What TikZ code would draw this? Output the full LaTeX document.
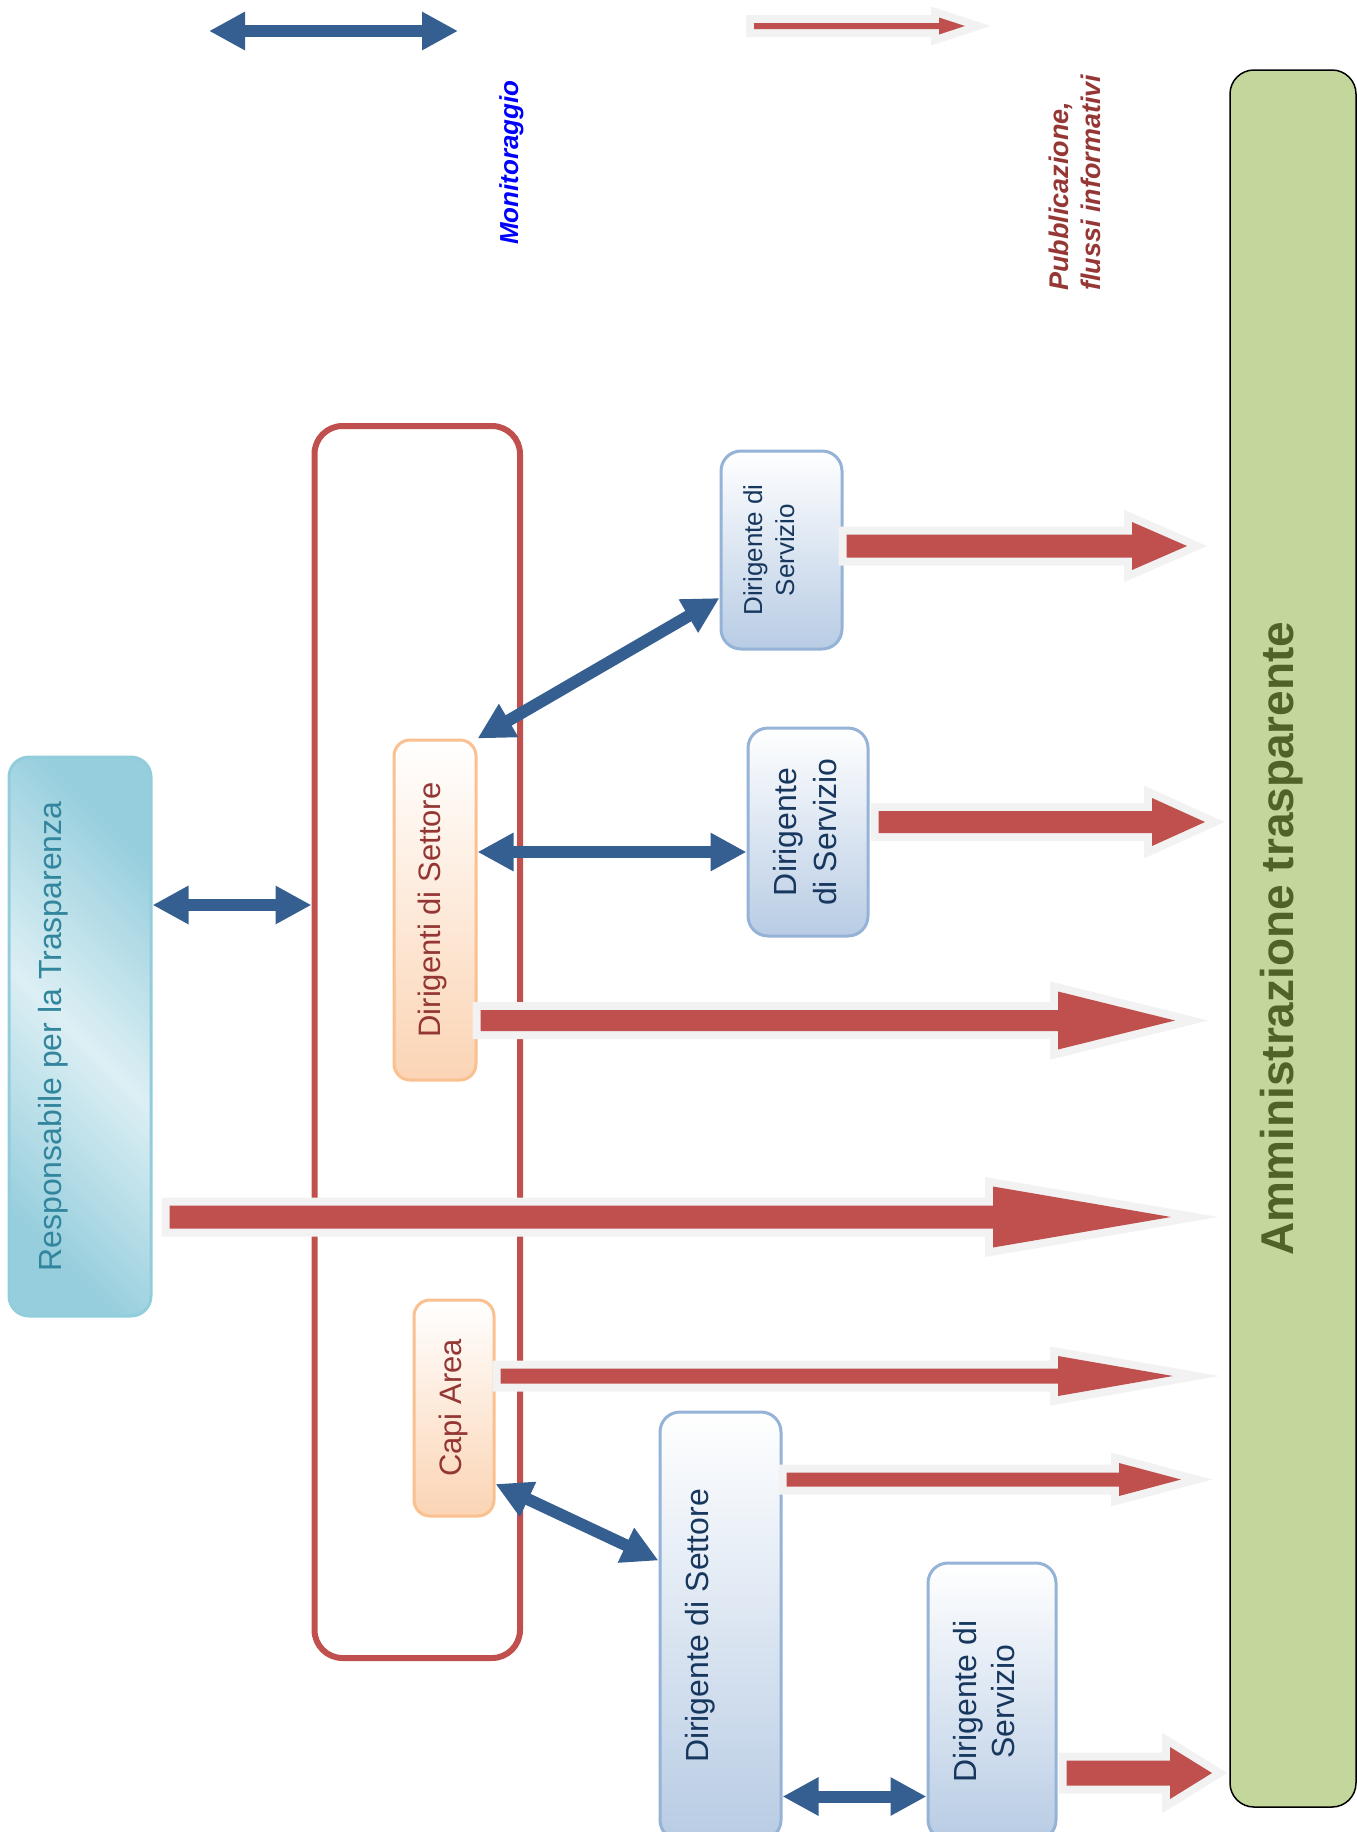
\documentclass[tikz,border=0pt]{standalone}
\usepackage{fontspec}
\setmainfont{Liberation Sans}
\usetikzlibrary{arrows.meta}
\usetikzlibrary{calc}

\definecolor{monblue}{HTML}{365F91}
\definecolor{pubred}{HTML}{C0504D}
\definecolor{halo}{HTML}{F2F2F2}
\definecolor{resline}{HTML}{92CDDC}
\definecolor{resdark}{HTML}{96CEDD}
\definecolor{reslight}{HTML}{DCEFF4}
\definecolor{restext}{HTML}{31859C}
\definecolor{setline}{HTML}{FAC090}
\definecolor{setfill}{HTML}{FBD4B4}
\definecolor{settext}{HTML}{943634}
\definecolor{srvline}{HTML}{95B3D7}
\definecolor{srvfill}{HTML}{B8CCE4}
\definecolor{srvtext}{HTML}{17375E}
\definecolor{ammfill}{HTML}{C3D69B}
\definecolor{ammtext}{HTML}{4F6228}
\definecolor{pubtext}{HTML}{953735}

% rotated label, #1 moves the baseline to the left
\newcommand{\vtext}[2]{\rotatebox{90}{\raisebox{#1}[0pt][0pt]{#2}}}
% start, tip, half shaft, half head, head length
\newcommand{\pubarrow}[5]{%
  \fill[pubfill] ($(#1)+(0,#3)$) -- ($(#2)+(-#5,#3)$) -- ($(#2)+(-#5,#4)$) -- (#2)
    -- ($(#2)+(-#5,-#4)$) -- ($(#2)+(-#5,-#3)$) -- ($(#1)+(0,-#3)$) -- cycle;}

\tikzset{
  resbox/.style={draw=resline, line width=3pt, rounded corners=20pt, left color=resdark,
    right color=resdark, middle color=reslight, shading angle=135, text=restext,
    inner sep=0pt, font=\fontsize{32}{38}\selectfont},
  setbox/.style={draw=setline, line width=3pt, rounded corners=16pt, top color=white,
    bottom color=setfill, text=settext, inner sep=0pt, font=\fontsize{31}{37}\selectfont},
  srvbox/.style={draw=srvline, line width=3pt, rounded corners=20pt, top color=white,
    bottom color=srvfill, text=srvtext, inner sep=0pt, font=\fontsize{32}{38}\selectfont},
  ammbox/.style={draw=black, line width=1.5pt, rounded corners=24pt, fill=ammfill,
    text=ammtext, inner sep=0pt, font=\bfseries\fontsize{46}{55}\selectfont},
  grpframe/.style={draw=pubred, line width=6pt, rounded corners=28pt, inner sep=0pt},
  monarrow/.style={draw=monblue, line width=12pt, >={Triangle[length=36pt,width=36pt]}, <->},
  pubfill/.style={fill=pubred, preaction={draw=halo, line width=16pt, line join=miter}},
}

\begin{document}
\begin{tikzpicture}[x=1pt,y=-1pt,
    legtext/.style={rotate=90, anchor=base west, inner sep=0pt}]
\useasboundingbox (0,0) rectangle (1357,1832);

% legend
\coordinate (legmonA) at (209,31);
\coordinate (legmonB) at (458,31);
\coordinate (legpubA) at (754,26);
\coordinate (legpubB) at (965,26);
\node[legtext, text=blue, font=\bfseries\itshape\fontsize{26}{31}\selectfont] (mon) at (518,245) {Monitoraggio};
\node[legtext, text=pubtext, font=\bfseries\itshape\fontsize{27}{32}\selectfont] (pub) at (1100,291)
  {\begin{tabular}[b]{@{}l@{}}Pubblicazione,\\flussi informativi\end{tabular}};

% boxes
\node[grpframe, minimum width=205.5, minimum height=1232] (grp) at (417.25,1042) {};
\node[resbox, minimum width=142, minimum height=559] (resp) at (80,1036.5)
  {\vtext{19pt}{Responsabile per la Trasparenza}};
\node[setbox, minimum width=82, minimum height=340] (dds) at (435,910)
  {\vtext{-5pt}{Dirigenti di Settore}};
\node[setbox, minimum width=80, minimum height=216] (capi) at (454,1408)
  {\vtext{-7pt}{Capi Area}};
\node[srvbox, minimum width=121, minimum height=198, font=\fontsize{26}{32}\selectfont] (dsv1) at (781.5,550)
  {\vtext{-12.5pt}{\begin{tabular}[b]{@{}c@{}}Dirigente di\\Servizio\end{tabular}}};
\node[srvbox, minimum width=120, minimum height=208, font=\fontsize{32}{40}\selectfont] (dsv2) at (808,832)
  {\vtext{-28pt}{\begin{tabular}[b]{@{}c@{}}Dirigente\\di Servizio\end{tabular}}};
\node[srvbox, minimum width=121, minimum height=428] (dset) at (720.5,1626)
  {\vtext{12.5pt}{Dirigente di Settore}};
\node[srvbox, minimum width=128, minimum height=277] (dsv3) at (992,1701.5)
  {\vtext{-22pt}{\begin{tabular}[b]{@{}c@{}}Dirigente di\\Servizio\end{tabular}}};
\node[ammbox, minimum width=126, minimum height=1737] (amm) at (1293,938.5)
  {\vtext{0pt}{Amministrazione trasparente}};

% monitoraggio
\draw[monarrow] (legmonA) -- (legmonB);
\draw[monarrow] ([yshift=131.5]resp.east) -- ([yshift=131.5]resp.east -| grp.west);
\draw[monarrow] (dds.north east) -- ([yshift=-48]dsv1.west);
\draw[monarrow] ([yshift=58]dds.east) -- ([yshift=58]dds.east -| dsv2.west);
\draw[monarrow] ([yshift=-76]capi.east) -- ([yshift=-150]dset.north west);
\draw[monarrow] ([yshift=-386]dset.north east) -- ([yshift=-386]dset.north east -| dsv3.west);

% pubblicazione
\coordinate (p1s) at ([xshift=3,yshift=4]dsv1.east);
\coordinate (p1t) at (p1s -| 1187,0);
\coordinate (p2s) at ([xshift=9,yshift=10]dsv2.east);
\coordinate (p2t) at (p2s -| 1205,0);
\coordinate (p3s) at ([xshift=3,yshift=-110.5]dds.east);
\coordinate (p3t) at (p3s -| 1175,0);
\coordinate (p4s) at ([xshift=17,yshift=-180.5]resp.east);
\coordinate (p4t) at (p4s -| 1171,0);
\coordinate (p5s) at ([xshift=5,yshift=32]capi.east);
\coordinate (p5t) at (p5s -| 1173,0);
\coordinate (p6s) at ([xshift=4,yshift=-69]dset.north east);
\coordinate (p6t) at (p6s -| 1181,0);
\coordinate (p7s) at ([xshift=9,yshift=-211.5]dsv3.north east);
\coordinate (p7t) at (p7s -| 1212,0);
\pubarrow{legpubA}{legpubB}{3}{8.5}{26}
\pubarrow{p1s}{p1t}{11.5}{24}{55}
\pubarrow{p2s}{p2t}{11}{24}{53}
\pubarrow{p3s}{p3t}{10.5}{29}{117}
\pubarrow{p4s}{p4t}{11.5}{30.5}{178}
\pubarrow{p5s}{p5t}{7.5}{20}{115}
\pubarrow{p6s}{p6t}{7}{16.5}{62}
\pubarrow{p7s}{p7t}{12.5}{26}{42}
\end{tikzpicture}
\end{document}
